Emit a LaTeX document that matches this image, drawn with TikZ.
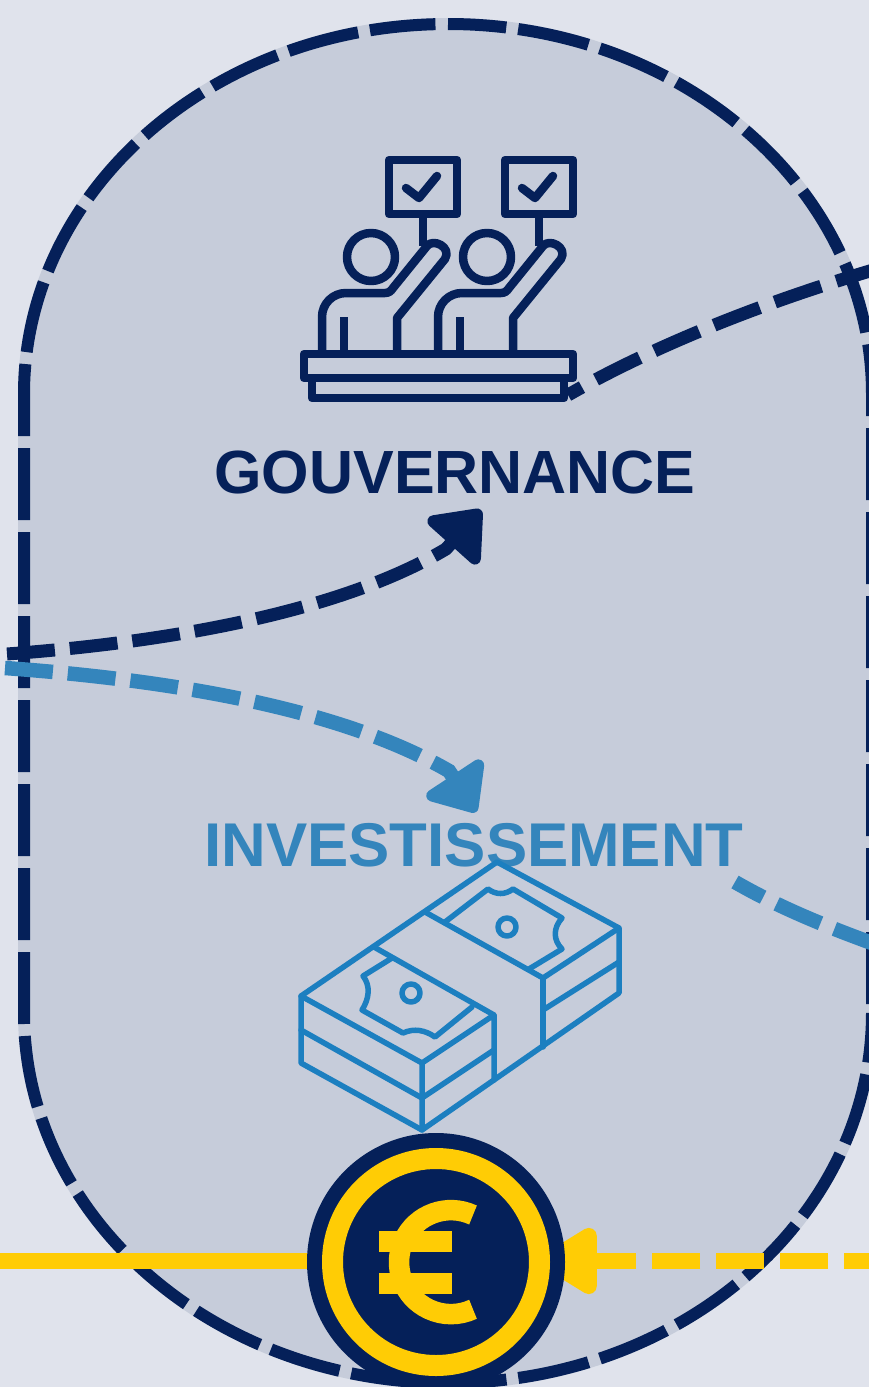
\documentclass[tikz,border=0pt]{standalone}
\usepackage{fontspec}
\setmainfont{Liberation Sans}
\usetikzlibrary{arrows.meta}
\definecolor{navy}{HTML}{052059}
\definecolor{steel}{HTML}{3485BC}
\definecolor{iconblue}{HTML}{1C7FC0}
\definecolor{gold}{HTML}{FFCC05}
\definecolor{pagebg}{HTML}{E0E3EC}
\definecolor{panelbg}{HTML}{C6CCDA}
\tikzstyle{outline}=[navy, line width=12pt, dash pattern=on 72pt off 12pt]
\tikzstyle{navyflow}=[navy, line width=13pt, dash pattern=on 48pt off 15pt]
\tikzstyle{blueflow}=[steel, line width=14.5pt, dash pattern=on 48pt off 15pt]
\tikzstyle{goldflow}=[gold, line width=16pt]
\tikzstyle{vote}=[navy, line width=8.5pt, line join=round, line cap=round]
\tikzstyle{money}=[iconblue, line width=5.5pt, line join=round, line cap=round]
\tikzstyle{title}=[font=\fontsize{61}{61}\selectfont\bfseries, inner sep=0pt]
\tikzset{ell/.style={x radius=424, y radius=370}}

\begin{document}
\begin{tikzpicture}[x=1pt, y=-1pt]
        \useasboundingbox (0, 0) rectangle (869, 1387);
        \clip (0, 0) rectangle (869, 1387);
        \fill[pagebg] (0, 0) rectangle (869, 1387);
        % panel
        \draw[panelbg, fill=panelbg, line width=12pt] (24, 394) arc[start angle=180, end angle=270, ell]
            arc[start angle=270, end angle=360, ell]
            -- (872, 1013) arc[start angle=0, end angle=90, ell]
            arc[start angle=90, end angle=180, ell] -- cycle;
        \draw[outline] (24, 616) -- (24, 1013) arc[start angle=180, end angle=90, ell]
            arc[start angle=90, end angle=0, ell] -- (872, 1016);
        \draw[outline] (872, 1004) -- (872, 394) arc[start angle=0, end angle=-90, ell];
        \draw[outline] (24, 604) -- (24, 394) arc[start angle=180, end angle=268.3, ell];

        % voters
        \foreach \dx in {0, 116} {
            \begin{scope}[xshift=\dx pt]
                \draw[vote] (389, 160) rectangle (457, 214);
                \draw[vote] (406, 188) -- (419, 198) -- (437, 176);
                \draw[vote, line cap=butt] (423, 214) -- (423, 246);
                \draw[vote] (371, 257) circle (24);
                \draw[vote, line cap=butt] (322, 350) -- (322, 317) arc[start angle=180, end angle=270, radius=24]
                    -- (385, 293) .. controls (389, 293) and (391, 291) .. (393, 288)
                    -- (427, 246) .. controls (433, 238) and (452, 247) .. (445, 259)
                    -- (397, 318) -- (397, 350);
                \draw[vote, line cap=butt] (344, 317) -- (344, 350);
            \end{scope}
        }
        \draw[vote] (304, 354) rectangle (573, 378);
        \draw[vote] (312, 378) rectangle (564, 398);

        \node[title, text=navy] (gouvernance) at (455, 472) {GOUVERNANCE};
        \node[title, text=steel, font=\fontsize{61.8}{62}\selectfont\bfseries] (investissement) at (474, 845) {INVESTISSEMENT};

        % banknotes
        \draw[money] (301, 996) -- (497, 862) -- (619, 928) -- (619, 993) -- (422, 1130) -- (301, 1063) -- cycle;
        \draw[money] (301, 996) -- (422, 1063) -- (422, 1130);
        \draw[money] (301, 1030) -- (422, 1098) -- (494, 1050);
        \draw[money] (422, 1063) -- (494, 1015) -- (494, 1080);
        \draw[money] (374, 947) -- (494, 1015);
        \draw[money] (425, 912) -- (543, 978) -- (619, 928);
        \draw[money] (543, 978) -- (543, 1047);
        \draw[money] (543, 1010) -- (619, 962);
        \draw[money] (392, 958) -- (363, 976) .. controls (371, 986) and (369, 999) .. (362, 1010)
            -- (403, 1033) .. controls (414, 1028) and (425, 1030) .. (435, 1037) -- (472, 1007);
        \draw[money] (445, 922) -- (488, 889) .. controls (496, 895) and (505, 895) .. (513, 889)
            -- (562, 918) .. controls (553, 928) and (553, 940) .. (562, 949) -- (529, 969);
        \draw[money] (411, 993) circle (9);
        \draw[money] (507, 927) circle (9);

        % flows
        \coordinate (navyIn) at (7, 654);
        \coordinate (navyBend) at (446, 549);
        \coordinate (navyTip) at (481, 510);
        \coordinate (blueIn) at (5, 668);
        \coordinate (blueBend) at (449, 771);
        \coordinate (blueTip) at (476, 812);
        \coordinate (navyOutStart) at (568, 395);
        \coordinate (navyOutEnd) at (880, 268);
        \coordinate (blueOutStart) at (735, 882);
        \coordinate (blueOutEnd) at (880, 946);
        \draw[navyflow, -{Triangle[round, line width=12pt, length=50pt, width=78pt]}] (navyIn) .. controls (170, 642) and (340, 612) .. (navyBend) -- (navyTip);
        \draw[blueflow, -{Triangle[round, line width=12pt, length=47pt, width=78pt]}] (blueIn) .. controls (170, 680) and (340, 708) .. (blueBend) -- (blueTip);
        \draw[navyflow, dash pattern=on 49pt off 16pt, dash phase=33pt] (navyOutStart) .. controls (650, 348) and (760, 303) .. (navyOutEnd);
        \draw[blueflow, dash phase=16pt] (blueOutStart) .. controls (780, 908) and (830, 928) .. (blueOutEnd);

        % coin
        \coordinate (goldIn) at (0, 1261);
        \coordinate (goldMid) at (436, 1261);
        \coordinate (goldOut) at (892, 1261);
        \coordinate (goldTip) at (540, 1261);
        \draw[goldflow] (goldIn) -- (goldMid);
        \draw[goldflow, dash pattern=on 48pt off 16pt, -{Triangle[round, length=65pt, width=74pt]}] (goldOut) -- (goldTip);
        \node[circle, fill=navy, minimum size=258pt, inner sep=0pt] (coin) at (436, 1262) {};
        \draw[gold, line width=21pt] (coin.center) circle (103.5);
        \draw[gold, line width=20.5pt] (473, 1215) arc[start angle=-65, end angle=-295, radius=52];
        \fill[gold] (379, 1231) rectangle (452, 1252);
        \fill[gold] (379, 1273) rectangle (452, 1294);
\end{tikzpicture}
\end{document}
